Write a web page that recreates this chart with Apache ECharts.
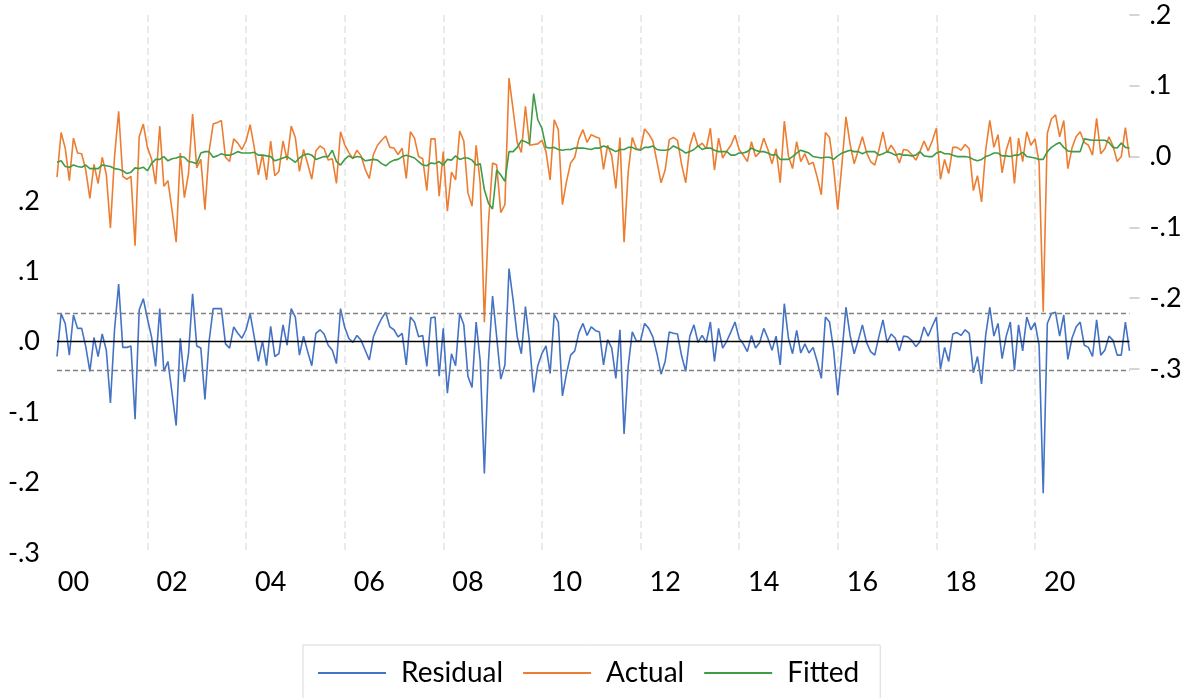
<!DOCTYPE html>
<html>
<head>
<meta charset="utf-8">
<script src="https://cdn.jsdelivr.net/npm/echarts@6/dist/echarts.min.js"></script>
<style>
html,body{margin:0;padding:0;background:#fff;}
#chart{width:1189px;height:698px;}
</style>
</head>
<body>
<div id="chart"></div>
<script>
// Monthly sample 2000M03 .. 2021M12 (262 observations)
var startYear = 2000, startMonth = 3, nObs = 262;

var residual = [
-0.021,0.040,0.026,-0.019,0.038,0.019,0.019,-0.007,-0.042,0.006,-0.021,0.011,-0.012,-0.087,0.017,0.082,-0.008,-0.008,-0.006,-0.110,
0.045,0.061,0.033,0.007,-0.035,0.047,-0.042,-0.028,-0.073,-0.119,0.005,-0.057,-0.017,0.068,-0.006,-0.009,-0.082,0.000,0.047,0.047,
0.047,-0.003,-0.009,0.021,0.012,0.005,0.017,0.040,0.007,-0.028,0.001,-0.034,0.022,-0.021,-0.017,0.024,-0.005,0.047,0.035,-0.019,
0.008,-0.014,-0.034,0.012,0.017,0.011,-0.005,-0.012,-0.031,0.047,0.021,0.005,-0.001,0.009,0.002,-0.012,-0.026,0.007,0.021,0.033,
0.042,0.021,0.017,0.007,0.012,-0.033,0.035,0.028,0.007,0.009,-0.035,0.034,0.035,-0.049,0.019,-0.073,-0.017,-0.034,0.040,0.024,
-0.049,-0.065,0.028,-0.028,-0.187,-0.028,0.065,0.007,-0.053,-0.033,0.104,0.059,0.007,-0.017,0.050,-0.002,-0.072,-0.034,-0.017,-0.006,
-0.045,0.039,0.028,-0.077,-0.045,-0.019,-0.013,0.013,0.026,0.009,0.021,0.016,0.014,-0.033,0.003,-0.009,-0.052,0.017,-0.131,-0.035,
0.014,0.001,0.001,0.026,0.019,0.007,-0.017,-0.046,-0.028,0.014,0.012,0.011,-0.020,-0.042,0.008,0.024,-0.001,0.009,-0.001,0.028,
-0.028,0.019,-0.009,0.001,0.014,0.028,0.005,-0.003,-0.014,0.009,-0.009,-0.001,0.019,0.005,-0.012,0.008,-0.033,0.054,0.005,-0.017,
0.016,-0.016,-0.003,-0.016,-0.008,-0.028,-0.052,0.035,0.028,-0.012,-0.076,-0.017,0.049,0.009,-0.017,0.002,0.024,-0.001,-0.014,-0.019,
0.007,0.031,-0.001,0.011,0.005,-0.013,0.008,0.007,0.002,-0.007,0.000,0.021,0.008,0.022,0.035,-0.039,-0.008,-0.028,0.011,0.013,
0.009,0.017,0.012,-0.044,-0.021,-0.060,0.009,0.049,0.008,0.026,-0.024,0.008,0.028,-0.040,0.024,-0.013,0.035,0.017,0.027,-0.005,
-0.215,0.026,0.040,0.042,0.008,0.038,-0.025,0.005,0.021,0.028,-0.005,-0.008,-0.021,0.031,-0.019,-0.012,0.008,0.002,-0.019,-0.019,
0.028,-0.013
];

var fitted = [
-0.008,-0.006,-0.014,-0.015,-0.012,-0.014,-0.015,-0.012,-0.017,-0.017,-0.017,-0.012,-0.013,-0.014,-0.017,-0.018,-0.020,-0.024,-0.022,-0.016,
-0.017,-0.015,-0.020,-0.010,-0.004,-0.004,0.000,-0.006,-0.003,-0.002,0.000,-0.001,-0.007,-0.008,-0.010,0.005,0.007,0.007,-0.001,0.001,
0.004,0.002,0.002,0.004,0.007,0.005,0.005,0.005,0.006,0.002,0.002,0.001,0.000,-0.006,-0.004,-0.002,0.000,-0.004,-0.008,-0.002,
0.002,0.004,0.002,-0.004,-0.002,0.000,0.000,0.009,-0.007,-0.012,-0.004,0.001,-0.002,0.000,-0.001,-0.006,-0.005,-0.004,-0.005,-0.010,
-0.013,-0.008,-0.005,-0.004,0.000,0.002,0.000,-0.002,-0.007,-0.012,-0.013,-0.009,-0.010,-0.007,-0.012,-0.004,-0.005,0.001,-0.004,-0.002,
-0.002,-0.005,-0.012,-0.010,-0.047,-0.066,-0.074,-0.019,-0.026,-0.035,0.007,0.007,0.013,0.023,0.021,0.018,0.089,0.052,0.040,0.013,
0.012,0.013,0.010,0.009,0.010,0.010,0.012,0.012,0.012,0.011,0.010,0.012,0.012,0.015,0.013,0.010,0.007,0.010,0.010,0.013,
0.013,0.010,0.009,0.013,0.013,0.015,0.010,0.009,0.009,0.010,0.015,0.012,0.009,0.005,0.007,0.010,0.015,0.010,0.012,0.012,
0.009,0.007,0.007,0.007,0.002,0.002,0.005,0.005,0.007,0.012,0.009,0.007,0.007,0.005,0.002,0.003,-0.004,-0.004,-0.004,0.000,
0.005,0.009,0.007,0.005,0.000,-0.001,-0.002,-0.001,-0.001,-0.004,0.001,0.005,0.007,0.009,0.007,0.007,0.004,0.007,0.007,0.007,
0.002,0.004,0.007,0.005,0.002,0.004,0.002,0.002,0.001,0.002,0.007,0.001,0.000,0.000,0.005,0.007,0.004,0.004,0.002,0.000,
0.000,0.000,-0.001,-0.004,-0.006,-0.004,0.000,0.002,0.005,0.005,0.001,0.001,0.000,0.002,0.002,0.006,0.000,-0.001,-0.002,-0.004,
-0.004,0.007,0.013,0.017,0.020,0.013,0.008,0.007,0.007,0.007,0.025,0.024,0.023,0.023,0.023,0.023,0.020,0.013,0.012,0.019,
0.013,0.012
];

var actual = [
-0.029,0.034,0.012,-0.034,0.026,0.005,0.004,-0.019,-0.059,-0.011,-0.038,-0.001,-0.025,-0.101,0.000,0.064,-0.028,-0.032,-0.028,-0.126,
0.028,0.046,0.013,-0.003,-0.039,0.043,-0.042,-0.034,-0.076,-0.121,0.005,-0.058,-0.024,0.060,-0.016,-0.004,-0.075,0.007,0.046,0.048,
0.051,-0.001,-0.007,0.025,0.019,0.010,0.022,0.045,0.013,-0.026,0.003,-0.033,0.022,-0.027,-0.021,0.022,-0.005,0.043,0.027,-0.021,
0.010,-0.010,-0.032,0.008,0.015,0.011,-0.005,-0.003,-0.038,0.035,0.017,0.006,-0.003,0.009,0.001,-0.018,-0.031,0.003,0.016,0.023,
0.029,0.013,0.012,0.003,0.012,-0.031,0.035,0.026,0.000,-0.003,-0.048,0.025,0.025,-0.056,0.007,-0.077,-0.022,-0.033,0.036,0.022,
-0.051,-0.070,0.016,-0.038,-0.234,-0.094,-0.009,-0.012,-0.079,-0.068,0.111,0.066,0.020,0.006,0.071,0.016,0.017,0.018,0.023,0.007,
-0.033,0.052,0.038,-0.068,-0.035,-0.009,-0.001,0.025,0.038,0.020,0.031,0.028,0.026,-0.018,0.016,0.001,-0.045,0.027,-0.121,-0.022,
0.027,0.011,0.010,0.039,0.032,0.022,-0.007,-0.037,-0.019,0.024,0.027,0.023,-0.011,-0.037,0.015,0.034,0.014,0.019,0.011,0.040,
-0.019,0.026,-0.002,0.008,0.016,0.030,0.010,0.002,-0.007,0.021,0.000,0.006,0.026,0.010,-0.010,0.011,-0.037,0.050,0.001,-0.017,
0.021,-0.007,0.004,-0.011,-0.008,-0.029,-0.054,0.034,0.027,-0.016,-0.075,-0.012,0.056,0.018,-0.010,0.009,0.028,0.006,-0.007,-0.012,
0.009,0.035,0.006,0.016,0.007,-0.009,0.010,0.009,0.003,-0.005,0.007,0.022,0.008,0.022,0.040,-0.032,-0.004,-0.024,0.013,0.013,
0.009,0.017,0.011,-0.048,-0.027,-0.064,0.009,0.051,0.013,0.031,-0.023,0.009,0.028,-0.038,0.026,-0.007,0.035,0.016,0.025,-0.009,
-0.219,0.033,0.053,0.059,0.028,0.051,-0.017,0.012,0.028,0.035,0.020,0.016,0.002,0.054,0.004,0.011,0.028,0.015,-0.007,0.000,
0.041,-0.001
];

var seBand = 0.037;
var leftTicks = [-0.3, -0.2, -0.1, 0, 0.1, 0.2];
var rightTicks = [-0.3, -0.2, -0.1, 0, 0.1, 0.2];

// category labels (year-month)
var months = [];
for (var k = 0; k < nObs; k++) {
  var m0 = startMonth - 1 + k;
  var y = startYear + Math.floor(m0 / 12);
  var m = (m0 % 12) + 1;
  months.push(y + '-' + (m < 10 ? '0' + m : m));
}
function monthOf(s){ return parseInt(s.slice(5), 10); }
function yearOf(s){ return parseInt(s.slice(0, 4), 10); }

function fmt(v) {
  var s = (Math.round(v * 10) / 10).toFixed(1);
  return s.replace(/^(-?)0\./, '$1.');
}

var FONT = 'Lato';
var chart = echarts.init(document.getElementById('chart'), null, {renderer: 'canvas'});
chart.setOption({
  animation: false,
  backgroundColor: '#ffffff',
  grid: {left: 57, right: 59.5, top: 15, bottom: 145, containLabel: false},
  legend: {
    data: ['Residual', 'Actual', 'Fitted'],
    left: 303, top: 645,
    icon: 'rect', itemWidth: 68, itemHeight: 2, itemGap: 20,
    padding: [14, 21, 17, 15],
    borderColor: '#d9d9d9', borderWidth: 1,
    textStyle: {fontFamily: FONT, fontSize: 28, color: '#000', padding: [0, 0, 0, 10]}
  },
  xAxis: {
    type: 'category',
    data: months,
    boundaryGap: false,
    axisLine: {show: false},
    axisTick: {show: false},
    axisLabel: {
      interval: function (i, v) { return monthOf(v) === 7 && yearOf(v) % 2 === 0; },
      formatter: function (v) { return String(yearOf(v)).slice(2); },
      fontFamily: FONT, fontSize: 27, color: '#000', margin: 16
    },
    splitLine: {
      show: true,
      interval: function (i, v) { return monthOf(v) === 1 && yearOf(v) % 2 === 0; },
      lineStyle: {color: '#e3e3e3', width: 1.5, type: [7, 4]}
    }
  },
  yAxis: [
    {
      type: 'value', min: -0.3, max: 0.464, position: 'left',
      axisLine: {show: false}, axisTick: {show: false}, splitLine: {show: false},
      axisLabel: {customValues: leftTicks, formatter: fmt, fontFamily: FONT, fontSize: 27, color: '#000', margin: 17}
    },
    {
      type: 'value', min: -0.56, max: 0.2, position: 'right',
      axisLine: {show: false}, splitLine: {show: false},
      axisTick: {show: true, customValues: rightTicks, length: 10, lineStyle: {color: '#c8c8c8', width: 1.5}},
      axisLabel: {customValues: rightTicks, formatter: fmt, fontFamily: FONT, fontSize: 27, color: '#000', margin: 20}
    }
  ],
  series: [
    {
      name: 'Residual', type: 'line', yAxisIndex: 0, data: residual,
      showSymbol: false, symbol: 'none',
      lineStyle: {color: '#4472C4', width: 1.6}, itemStyle: {color: '#4472C4'},
      markLine: {
        silent: true, symbol: ['none', 'none'], label: {show: false},
        data: [
          {yAxis: 0, lineStyle: {color: '#000', width: 1.3, type: 'solid'}},
          {yAxis: seBand, lineStyle: {color: '#808080', width: 1.3, type: [5, 3]}},
          {yAxis: -seBand, lineStyle: {color: '#808080', width: 1.3, type: [5, 3]}}
        ]
      }
    },
    {
      name: 'Actual', type: 'line', yAxisIndex: 1, data: actual,
      showSymbol: false, symbol: 'none',
      lineStyle: {color: '#ED7D31', width: 1.6}, itemStyle: {color: '#ED7D31'}
    },
    {
      name: 'Fitted', type: 'line', yAxisIndex: 1, data: fitted,
      showSymbol: false, symbol: 'none',
      lineStyle: {color: '#3F9C45', width: 1.6}, itemStyle: {color: '#3F9C45'}
    }
  ]
});
</script>
</body>
</html>
